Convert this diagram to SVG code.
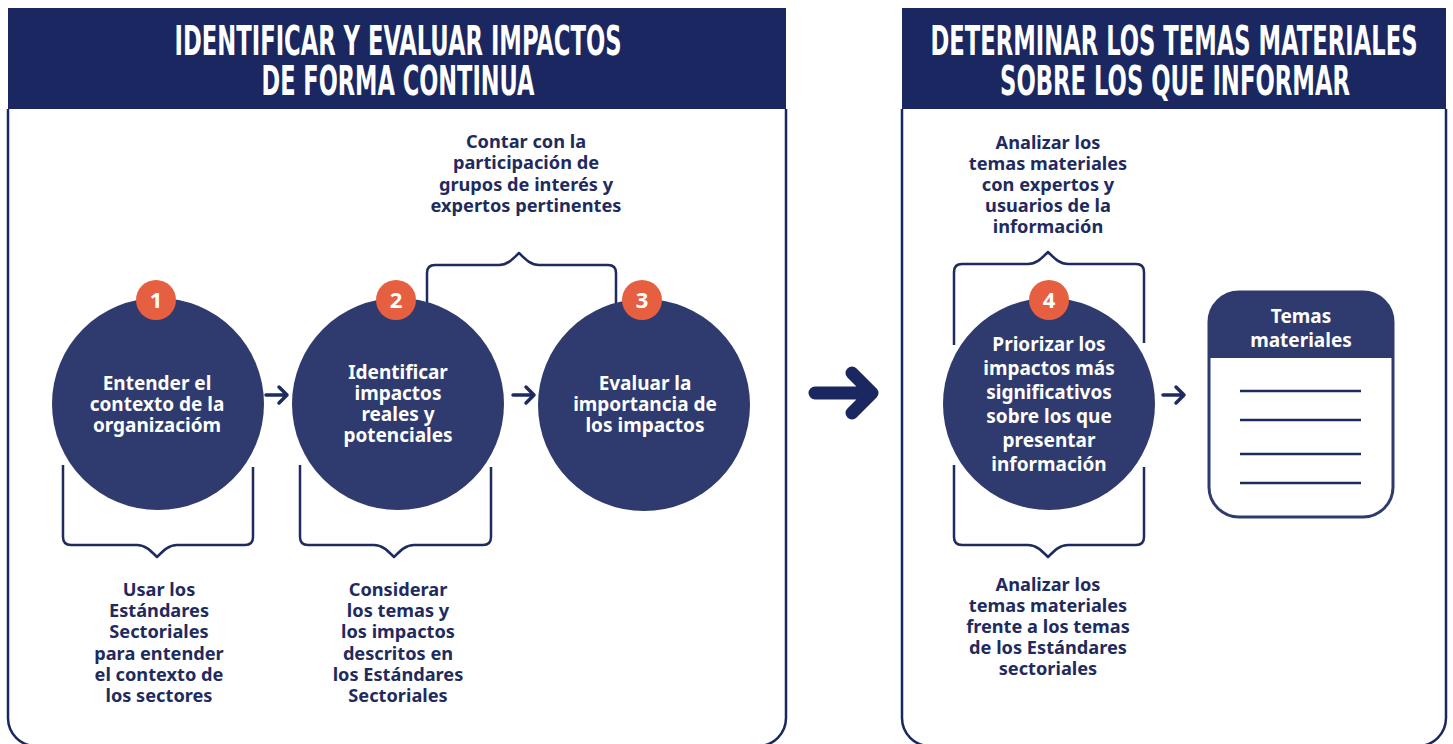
<svg xmlns="http://www.w3.org/2000/svg" width="1453" height="744" viewBox="0 0 1453 744">
<defs>
<style>
.hdr{fill:#1b2760}
.frame{fill:#fff;stroke:#1b2760;stroke-width:2.5}
.htxt{font-family:"Liberation Sans Narrow","DejaVu Sans Condensed","Liberation Sans",sans-serif;font-weight:700;font-size:40px;fill:#fff;text-anchor:middle}
.circ{fill:#2f3b6e}
.badge{fill:#e65f40}
.btxt{font-family:"Noto Sans","Open Sans",sans-serif;font-weight:700;font-size:22px;fill:#fff;text-anchor:middle}
.ctxt{font-family:"Noto Sans","Open Sans",sans-serif;font-weight:700;font-size:19px;fill:#fff;text-anchor:middle}
.ltxt{font-family:"Noto Sans","Open Sans",sans-serif;font-weight:700;font-size:18.2px;fill:#1f2b5e;text-anchor:middle}
.brk{fill:none;stroke:#1f2b5e;stroke-width:2.5;stroke-linejoin:round}
.arr{fill:none;stroke:#1f2b5e;stroke-width:3.5;stroke-linecap:round;stroke-linejoin:round}
.big{fill:none;stroke:#1b2760;stroke-width:13;stroke-linecap:round;stroke-linejoin:round}
.rule{stroke:#1f2b5e;stroke-width:2.5}
</style>
<clipPath id="boxclip"><rect x="1209" y="292" width="184" height="225" rx="30"/></clipPath>
</defs>

<g id="panel-left">
<path class="frame" d="M8,109 V718 A28,28 0 0 0 36,746 H758 A28,28 0 0 0 786,718 V109"/>
<rect class="hdr" x="8" y="8" width="778" height="101"/>
<text class="htxt" x="398" y="55" textLength="447" lengthAdjust="spacingAndGlyphs">IDENTIFICAR Y EVALUAR IMPACTOS</text>
<text class="htxt" x="398" y="95" textLength="273" lengthAdjust="spacingAndGlyphs">DE FORMA CONTINUA</text>
</g>

<g id="panel-right">
<path class="frame" d="M902,109 V718 A28,28 0 0 0 930,746 H1418 A28,28 0 0 0 1446,718 V109"/>
<rect class="hdr" x="902" y="8" width="544" height="101"/>
<text class="htxt" x="1174" y="55" textLength="487" lengthAdjust="spacingAndGlyphs">DETERMINAR LOS TEMAS MATERIALES</text>
<text class="htxt" x="1175" y="95" textLength="350" lengthAdjust="spacingAndGlyphs">SOBRE LOS QUE INFORMAR</text>
</g>

<g id="connectors">
<path class="brk" d="M63,465 V537 Q63,545 71,545 H137 C145,545 150,550 157,557 C164,550 169,545 177,545 H245 Q253,545 253,537 V467"/>
<path class="brk" d="M300,465 V537 Q300,545 308,545 H374 C382,545 387,550 394,557 C401,550 406,545 414,545 H483 Q491,545 491,537 V467"/>
<path class="brk" d="M427,310 V273 Q427,265 435,265 H499 C507,265 512,260 519,253 C526,260 531,265 539,265 H608 Q616,265 616,273 V310"/>
<path class="brk" d="M954,345 V272 Q954,264 962,264 H1028 C1036,264 1041,259 1048,252 C1055,259 1060,264 1068,264 H1136 Q1144,264 1144,272 V343"/>
<path class="brk" d="M954,465 V537 Q954,545 962,545 H1028 C1036,545 1041,550 1048,557 C1055,550 1060,545 1068,545 H1136 Q1144,545 1144,537 V467"/>
<path class="arr" d="M266,395 H287 M279,387 L287,395 L279,403"/>
<path class="arr" d="M513,395 H534 M526,387 L534,395 L526,403"/>
<path class="arr" d="M1163,395 H1184 M1176,387 L1184,395 L1176,403"/>
<path class="big" d="M815,393 H872 M852,373 L872,393 L852,413"/>
</g>

<g id="node-1">
<circle class="circ" cx="158" cy="404" r="106"/>
<circle class="badge" cx="156" cy="300" r="20"/>
<text class="btxt" x="156" y="308">1</text>
<text class="ctxt" x="157" y="390">Entender el</text>
<text class="ctxt" x="157" y="411">contexto de la</text>
<text class="ctxt" x="157" y="432">organizacióm</text>
</g>

<g id="node-2">
<circle class="circ" cx="398" cy="404" r="106"/>
<circle class="badge" cx="396" cy="300" r="20"/>
<text class="btxt" x="396" y="308">2</text>
<text class="ctxt" x="398" y="379">Identificar</text>
<text class="ctxt" x="398" y="400">impactos</text>
<text class="ctxt" x="398" y="421">reales y</text>
<text class="ctxt" x="398" y="442">potenciales</text>
</g>

<g id="node-3">
<circle class="circ" cx="644" cy="405" r="106"/>
<circle class="badge" cx="642" cy="300" r="20"/>
<text class="btxt" x="642" y="308">3</text>
<text class="ctxt" x="645" y="390">Evaluar la</text>
<text class="ctxt" x="645" y="411">importancia de</text>
<text class="ctxt" x="645" y="432">los impactos</text>
</g>

<g id="node-4">
<circle class="circ" cx="1049" cy="404" r="106"/>
<circle class="badge" cx="1049" cy="300" r="20"/>
<text class="btxt" x="1049" y="308">4</text>
<text class="ctxt" x="1049" y="351">Priorizar los</text>
<text class="ctxt" x="1049" y="375">impactos más</text>
<text class="ctxt" x="1049" y="399">significativos</text>
<text class="ctxt" x="1049" y="423">sobre los que</text>
<text class="ctxt" x="1049" y="447">presentar</text>
<text class="ctxt" x="1049" y="471">información</text>
</g>

<g id="node-temas">
<rect x="1209" y="292" width="184" height="225" rx="30" fill="#fff"/>
<rect x="1209" y="292" width="184" height="66" class="circ" clip-path="url(#boxclip)"/>
<rect x="1209" y="292" width="184" height="225" rx="30" fill="none" stroke="#2f3b6e" stroke-width="3"/>
<text class="ctxt" x="1301" y="323">Temas</text>
<text class="ctxt" x="1301" y="347">materiales</text>
<line class="rule" x1="1240" y1="391" x2="1361" y2="391"/>
<line class="rule" x1="1240" y1="420" x2="1361" y2="420"/>
<line class="rule" x1="1240" y1="454" x2="1361" y2="454"/>
<line class="rule" x1="1240" y1="483" x2="1361" y2="483"/>
</g>

<g id="label-participacion">
<text class="ltxt" x="526" y="148">Contar con la</text>
<text class="ltxt" x="526" y="169">participación de</text>
<text class="ltxt" x="526" y="191">grupos de interés y</text>
<text class="ltxt" x="526" y="212">expertos pertinentes</text>
</g>

<g id="label-estandares-1">
<text class="ltxt" x="159" y="596">Usar los</text>
<text class="ltxt" x="159" y="617">Estándares</text>
<text class="ltxt" x="159" y="638">Sectoriales</text>
<text class="ltxt" x="159" y="660">para entender</text>
<text class="ltxt" x="159" y="681">el contexto de</text>
<text class="ltxt" x="159" y="702">los sectores</text>
</g>

<g id="label-estandares-2">
<text class="ltxt" x="398" y="596">Considerar</text>
<text class="ltxt" x="398" y="617">los temas y</text>
<text class="ltxt" x="398" y="638">los impactos</text>
<text class="ltxt" x="398" y="660">descritos en</text>
<text class="ltxt" x="398" y="681">los Estándares</text>
<text class="ltxt" x="398" y="702">Sectoriales</text>
</g>

<g id="label-expertos">
<text class="ltxt" x="1048" y="149">Analizar los</text>
<text class="ltxt" x="1048" y="170">temas materiales</text>
<text class="ltxt" x="1048" y="191">con expertos y</text>
<text class="ltxt" x="1048" y="212">usuarios de la</text>
<text class="ltxt" x="1048" y="233">información</text>
</g>

<g id="label-sectoriales">
<text class="ltxt" x="1048" y="591">Analizar los</text>
<text class="ltxt" x="1048" y="612">temas materiales</text>
<text class="ltxt" x="1048" y="633">frente a los temas</text>
<text class="ltxt" x="1048" y="654">de los Estándares</text>
<text class="ltxt" x="1048" y="675">sectoriales</text>
</g>
</svg>
